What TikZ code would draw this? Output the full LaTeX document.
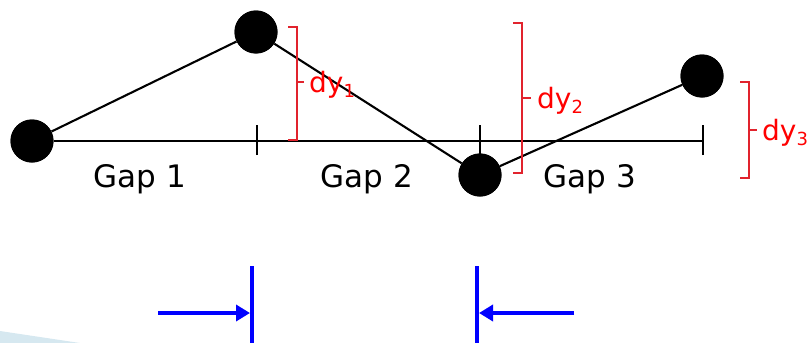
\documentclass[tikz,border=0pt]{standalone}
\usepackage{fontspec}
\setmainfont{DejaVu Sans}
\usetikzlibrary{arrows.meta, positioning}
\definecolor{bracketred}{RGB}{225,35,45}
\definecolor{slidecyan}{RGB}{214,232,240}
\newcommand{\lowidx}[1]{\raisebox{-5pt}{\fontsize{18}{18}\selectfont #1}}

\begin{document}
\begin{tikzpicture}[
    x=1pt, y=-1pt,
    dot/.style={circle, fill=black, inner sep=0pt, minimum size=43pt},
    link/.style={line width=2.1pt, black},
    tickmark/.style={line width=1.8pt, black},
    brace/.style={line width=2pt, bracketred},
    gaplabel/.style={anchor=base, font=\fontsize{31}{31}\selectfont},
    dylabel/.style={anchor=base west, text=red, inner sep=0pt, font=\fontsize{28}{28}\selectfont},
    stopbar/.style={line width=4.5pt, blue},
    push/.style={-{Triangle[length=14pt,width=16pt]}, line width=4.5pt, blue}
]
    \useasboundingbox (0,0) rectangle (812,343);
    \fill[slidecyan] (0,331) -- (80,343) -- (0,343) -- cycle;

    \coordinate (t1) at (257,141);
    \coordinate (t2) at (480,141);
    \coordinate (t3) at (703,141);

    \node[dot] (p1) at (32,141) {};
    \node[dot] (p2) at (256,32) {};
    \node[dot] (p3) at (480,175) {};
    \node[dot] (p4) at (702,76) {};

    \draw[link] (p1) -- (t3);
    \foreach \t in {t1,t2,t3}
        \draw[tickmark] ([yshift=-14pt]\t) -- ([yshift=16pt]\t);
    \draw[link] (p1) -- (p2);
    \draw[link] (p2) -- (p3);
    \draw[link] (p3) -- (p4);
    \node[dot] at (p1) {};
    \node[dot] at (p2) {};
    \node[dot] at (p3) {};
    \node[dot] at (p4) {};

    \node[gaplabel] (gap1) at (140,187) {Gap 1};
    \node[gaplabel] (gap2) at (367,187) {Gap 2};
    \node[gaplabel] (gap3) at (590,187) {Gap 3};

    \draw[brace] (288,27) -- (297,27) -- (297,140) -- (288,140);
    \draw[brace] (297,82) -- (304,82);
    \node[dylabel] (dy1) at (309,92) {dy\lowidx{1}};
    \draw[brace] (513,23) -- (522,23) -- (522,173) -- (513,173);
    \draw[brace] (522,98) -- (531,98);
    \node[dylabel] (dy2) at (537,108) {dy\lowidx{2}};
    \draw[brace] (740,82) -- (749,82) -- (749,178) -- (740,178);
    \draw[brace] (749,130) -- (757,130);
    \node[dylabel] (dy3) at (762,140) {dy\lowidx{3}};

    \coordinate (barL) at (252,266);
    \coordinate (barR) at (477,266);
    \coordinate (fromL) at (158,313);
    \coordinate (fromR) at (574,313);
    \draw[stopbar] (barL) -- (barL |- 0,343);
    \draw[stopbar] (barR) -- (barR |- 0,343);
    \draw[push] (fromL) -- ([xshift=-2pt]barL |- fromL);
    \draw[push] (fromR) -- ([xshift=2pt]barR |- fromR);
\end{tikzpicture}
\end{document}
